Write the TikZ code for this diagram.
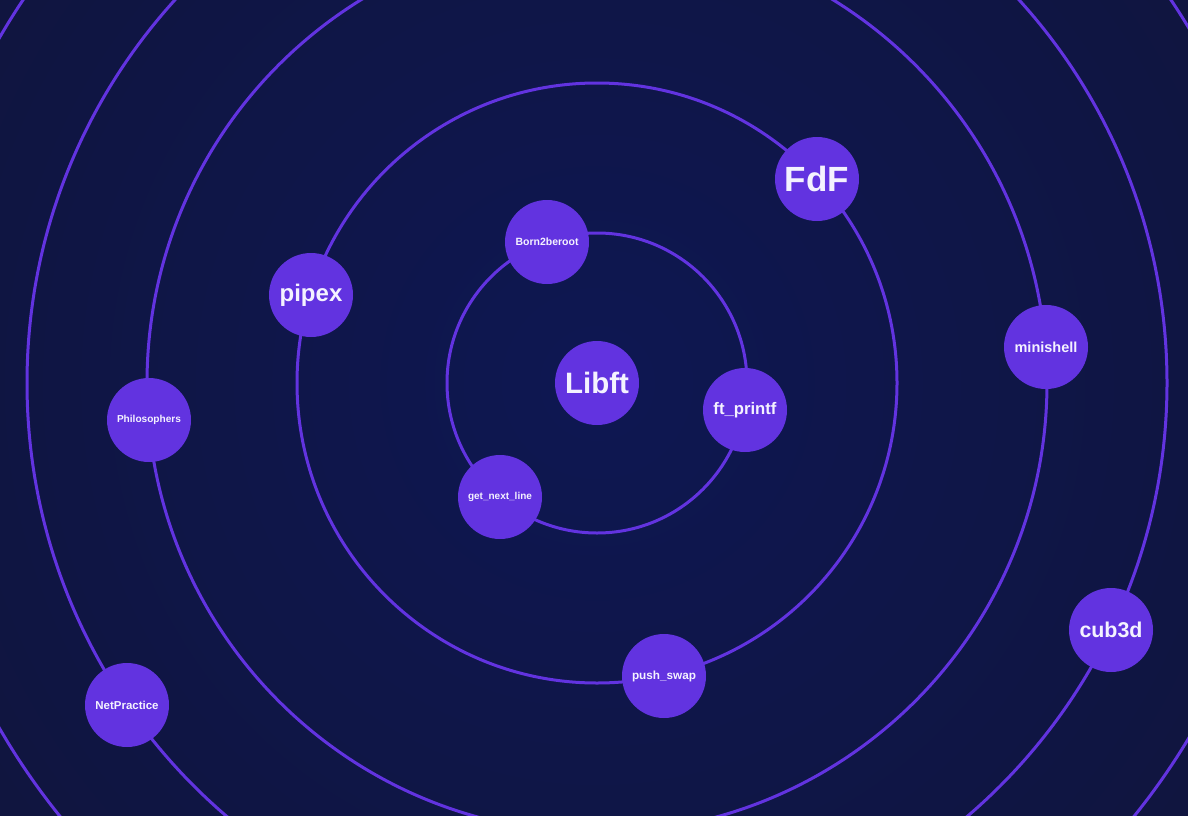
\documentclass[tikz,border=0pt]{standalone}
\usepackage{fontspec}
\setmainfont{Liberation Sans}
\definecolor{ringc}{HTML}{6233E0}
\definecolor{bginner}{HTML}{0E1752}
\definecolor{bgouter}{HTML}{111330}
\definecolor{txt}{HTML}{F4F2FF}
\begin{document}
\begin{tikzpicture}[x=1pt,y=-1pt,
  ring/.style={draw=ringc,line width=3pt},
  proj/.style={circle,fill=ringc,minimum size=84pt,inner sep=0pt,text=txt,font=\bfseries}]
\useasboundingbox (0,0) rectangle (1188,816);
\begin{scope}
\clip (0,0) rectangle (1188,816);
\fill[bgouter] (0,0) rectangle (1188,816);
\shade[inner color=bginner,outer color=bgouter] (597,383) circle (1300);
\coordinate (c) at (597,383);
\foreach \r in {150,300,450,570,690}
  \draw[ring] (c) circle (\r);
\end{scope}
\node[proj,font=\bfseries\fontsize{29.5}{30}\selectfont] (libft) at (597,383) {Libft};
\node[proj,font=\bfseries\fontsize{10.5}{11}\selectfont] (b2br) at (547,242) {Born2beroot};
\node[proj,font=\bfseries\fontsize{16.7}{17}\selectfont] (printf) at (745,410) {ft\_printf};
\node[proj,font=\bfseries\fontsize{10}{11}\selectfont] (gnl) at (500,497) {get\_next\_line};
\node[proj,font=\bfseries\fontsize{24}{25}\selectfont] (pipex) at (311,295) {pipex};
\node[proj,font=\bfseries\fontsize{35}{36}\selectfont] (fdf) at (817,179) {FdF};
\node[proj,font=\bfseries\fontsize{11.75}{12}\selectfont] (pushswap) at (664,676) {push\_swap};
\node[proj,font=\bfseries\fontsize{10.1}{11}\selectfont] (philo) at (149,420) {Philosophers};
\node[proj,font=\bfseries\fontsize{14.5}{15}\selectfont] (minishell) at (1046,347) {minishell};
\node[proj,font=\bfseries\fontsize{11.5}{12}\selectfont] (netp) at (127,705) {NetPractice};
\node[proj,font=\bfseries\fontsize{21.4}{22}\selectfont] (cub) at (1111,630) {cub3d};
\end{tikzpicture}
\end{document}
